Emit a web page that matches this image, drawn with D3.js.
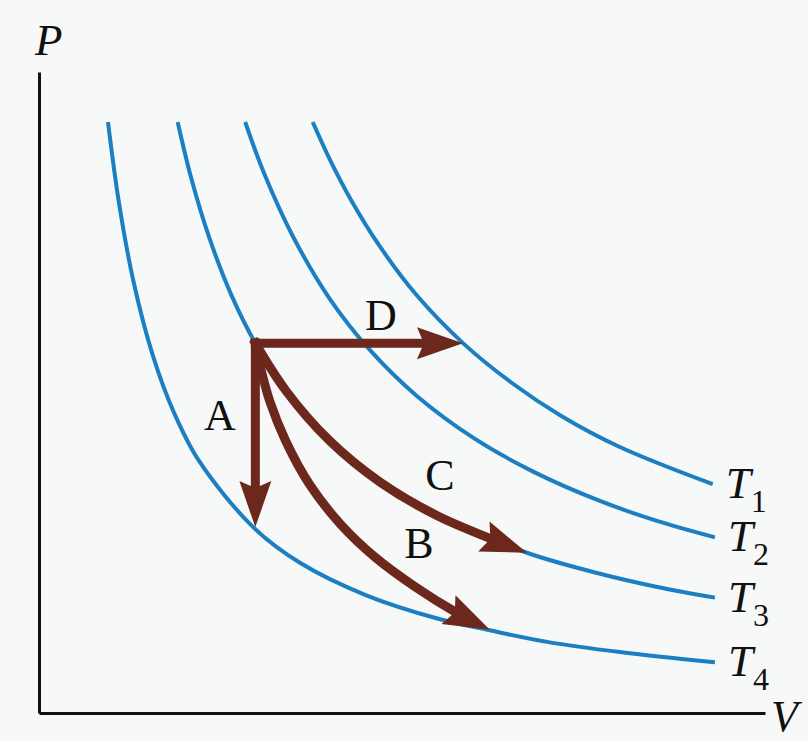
<!DOCTYPE html>
<html>
<head>
<meta charset="utf-8">
<script src="https://cdn.jsdelivr.net/npm/d3@7"></script>
<style>
  html, body { margin: 0; padding: 0; background: #f7f8f8; }
  svg { display: block; }
  text { font-family: "Liberation Serif", "DejaVu Serif", serif; fill: #111; }
</style>
</head>
<body>
<div id="chart"></div>
<script>
// isotherms (V and P in arbitrary units 0..100)
const isoLabels = ["1", "2", "3", "4"];

const t1V = [37.7, 40.0, 43.0, 47.0, 52.0, 58.4, 65.0, 72.0, 80.0, 92.8];
const t1P = [92.2, 86.5, 80.0, 72.7, 65.2, 57.7, 51.6, 46.3, 41.5, 35.7];

const t2V = [28.4, 31.0, 35.0, 40.0, 45.6, 52.0, 60.0, 68.0, 77.0, 85.0, 93.1];
const t2P = [92.2, 84.2, 74.3, 64.7, 56.6, 49.5, 42.8, 37.7, 33.2, 30.0, 27.4];

const t3V = [19.1, 21.0, 23.5, 26.5, 29.8, 34.0, 40.0, 47.0, 55.0, 67.2, 77.0, 85.0, 93.1];
const t3P = [92.2, 83.3, 74.0, 65.2, 57.7, 50.3, 42.5, 36.0, 30.7, 25.0, 21.8, 19.7, 18.0];

const t4V = [9.5, 11.0, 13.0, 15.7, 18.5, 22.0, 29.5, 36.0, 45.0, 55.0, 62.1, 70.0, 80.0, 93.1];
const t4P = [92.2, 79.7, 67.4, 55.7, 47.1, 39.4, 29.0, 23.4, 18.4, 14.7, 12.9, 11.1, 9.5, 7.9];

// processes starting from the same state
const processNames = ["A", "B", "C", "D"];

const aV = [29.8, 29.8];
const aP = [57.7, 29.0];

const bV = [29.8, 30.6, 31.8, 34.0, 37.3, 41.5, 46.3, 51.8, 57.3, 62.1];
const bP = [57.7, 53.5, 48.6, 42.4, 35.6, 29.5, 24.3, 19.7, 15.8, 13.0];

const cV = [29.8, 34.0, 40.0, 47.0, 55.0, 67.2];
const cP = [57.7, 50.3, 42.5, 36.0, 30.7, 25.0];

const dV = [29.8, 58.4];
const dP = [57.7, 57.7];

const W = 808, H = 741;
const blue = "#1b7fc2", brown = "#6c281d";

const x = d3.scaleLinear().domain([0, 100]).range([39, 765]);
const y = d3.scaleLinear().domain([0, 100]).range([713, 72]);

const zip = (vs, ps) => vs.map((v, i) => [v, ps[i]]);

const svg = d3.select("#chart").append("svg")
  .attr("width", W)
  .attr("height", H);

svg.append("rect").attr("width", W).attr("height", H).attr("fill", "#f7f8f8");

// arrow head
svg.append("defs").append("marker")
  .attr("id", "head")
  .attr("markerUnits", "userSpaceOnUse")
  .attr("viewBox", "0 -20 50 40")
  .attr("markerWidth", 50)
  .attr("markerHeight", 40)
  .attr("refX", 46)
  .attr("refY", 0)
  .attr("orient", "auto")
  .append("path")
  .attr("d", "M0,-16L46,0L0,16L7,0Z")
  .attr("fill", brown);

// axes, no ticks
svg.append("g")
  .attr("transform", `translate(0,${y(0)})`)
  .call(d3.axisBottom(x).ticks(0).tickSizeOuter(0))
  .call(g => g.select(".domain").attr("stroke", "#111").attr("stroke-width", 3));

svg.append("g")
  .attr("transform", `translate(${x(0)},0)`)
  .call(d3.axisLeft(y).ticks(0).tickSizeOuter(0))
  .call(g => g.select(".domain").attr("stroke", "#111").attr("stroke-width", 3));

svg.append("text").attr("x", 35).attr("y", 55)
  .attr("font-size", 45).attr("font-style", "italic").text("P");
svg.append("text").attr("x", 771).attr("y", 731)
  .attr("font-size", 44).attr("font-style", "italic").text("V");

const line = d3.line()
  .x(d => x(d[0]))
  .y(d => y(d[1]))
  .curve(d3.curveCatmullRom.alpha(0.5));

// isotherm curves
const curves = [zip(t1V, t1P), zip(t2V, t2P), zip(t3V, t3P), zip(t4V, t4P)];

svg.selectAll("path.iso")
  .data(curves)
  .enter()
  .append("path")
  .attr("class", "iso")
  .attr("d", line)
  .attr("fill", "none")
  .attr("stroke", blue)
  .attr("stroke-width", 4);

// T labels at the end of each curve
curves.forEach((c, i) => {
  const end = c[c.length - 1];
  const t = svg.append("text")
    .attr("x", x(end[0]) + 13)
    .attr("y", y(end[1]) + 14)
    .attr("font-size", 45);
  t.append("tspan").attr("font-style", "italic").text("T");
  t.append("tspan").attr("font-size", 32).attr("dy", 14).text(isoLabels[i]);
});

// process arrows
const arrows = [zip(aV, aP), zip(bV, bP), zip(cV, cP), zip(dV, dP)];

svg.selectAll("path.proc")
  .data(arrows)
  .enter()
  .append("path")
  .attr("class", "proc")
  .attr("d", line)
  .attr("fill", "none")
  .attr("stroke", brown)
  .attr("stroke-width", 9)
  .attr("stroke-linecap", "square")
  .attr("marker-end", "url(#head)")
  .attr("stroke-dasharray", function() {
    const L = this.getTotalLength();
    return `${L - 30} ${L}`;
  });

// process labels
const labelPos = [[220, 430], [419, 558], [440, 490], [381, 330]];
svg.selectAll("text.proc")
  .data(processNames)
  .enter()
  .append("text")
  .attr("class", "proc")
  .attr("x", (d, i) => labelPos[i][0])
  .attr("y", (d, i) => labelPos[i][1])
  .attr("text-anchor", "middle")
  .attr("font-size", 44)
  .text(d => d);
</script>
</body>
</html>
